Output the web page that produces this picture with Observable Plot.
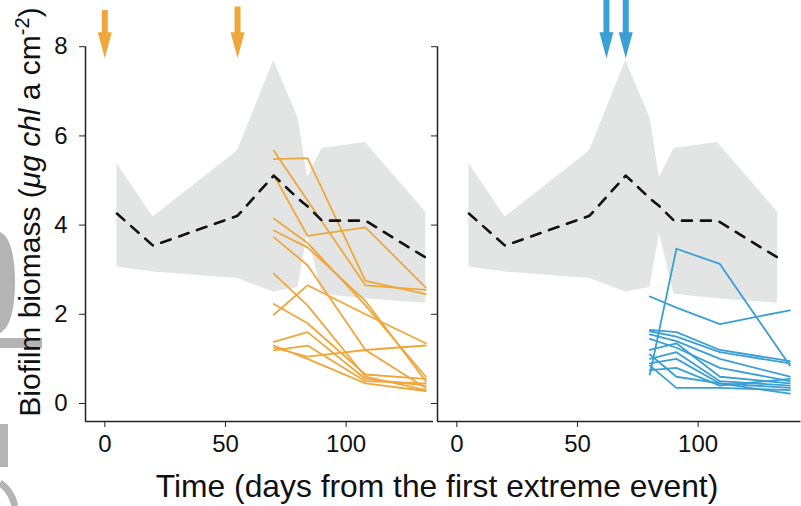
<!DOCTYPE html>
<html><head><meta charset="utf-8">
<script src="https://cdn.jsdelivr.net/npm/d3@7"></script>
<script src="https://cdn.jsdelivr.net/npm/@observablehq/plot@0.6"></script>
<style>body{margin:0;background:#fff}#chart{width:801px;height:506px}</style>
</head><body><div id="chart"></div>
<script>
// ---------- data ----------
const panels = ["orange", "blue"];
const xTicks = [0, 50, 100];
const yTicks = [0, 2, 4, 6, 8];

// reference envelope (same in both panels)
const refDays = [5, 20, 55, 70, 80, 84, 90, 108, 133];
const refLow  = [3.06, 2.95, 2.8, 2.5, 2.6, 3.8, 2.45, 2.35, 2.25];
const refHigh = [5.38, 4.18, 5.67, 7.69, 6.42, 5.07, 5.72, 5.85, 4.29];
const refMean = [4.26, 3.54, 4.21, 5.11, 4.6, 4.42, 4.1, 4.1, 3.27];

// orange panel: individual channels
const orangeDays = [70, 84, 108, 133];
const orangeSeries = [
  [5.67, 4.55, 2.65, 2.55],
  [5.48, 5.50, 2.75, 2.45],
  [5.12, 3.76, 3.95, 2.60],
  [4.15, 3.60, 2.20, 0.60],
  [3.88, 3.50, 2.30, 0.50],
  [3.73, 3.10, 1.20, 0.35],
  [2.91, 2.20, 0.60, 0.30],
  [1.99, 2.65, 2.00, 1.35],
  [2.23, 1.80, 0.65, 0.55],
  [1.38, 1.60, 0.55, 0.40],
  [1.25, 1.05, 1.20, 1.30],
  [1.19, 1.30, 0.50, 0.45],
  [1.30, 1.00, 0.45, 0.28]
];

// blue panel: individual channels
const blueDays = [80, 91, 109, 138];
const blueSeries = [
  [0.65, 3.47, 3.13, 0.85],
  [2.40, 2.15, 1.78, 2.09],
  [1.65, 1.60, 1.20, 0.95],
  [1.62, 1.50, 1.15, 0.90],
  [1.55, 1.40, 1.00, 0.60],
  [1.45, 1.25, 0.80, 0.50],
  [1.20, 1.35, 0.60, 0.45],
  [1.00, 1.15, 0.50, 0.40],
  [0.90, 1.00, 0.45, 0.35],
  [0.75, 0.80, 0.40, 0.55],
  [0.85, 0.35, 0.35, 0.30],
  [1.10, 0.60, 0.45, 0.22]
];

// extreme events (arrows)
const arrowPanel = ["orange", "orange", "blue", "blue"];
const arrowDays  = [0, 55, 62, 70];
const arrowTop   = [8.81, 8.89, 9.1, 9.1];

const colors = {orange: "#efa73b", blue: "#3a9fd2"};

// ---------- tables ----------
const refRows = panels.flatMap(p => refDays.map((d, i) => ({panel: p, day: d, lo: refLow[i], hi: refHigh[i], mean: refMean[i]})));
const orangeRows = orangeSeries.flatMap((s, k) => s.map((v, i) => ({panel: "orange", id: k, day: orangeDays[i], value: v})));
const blueRows = blueSeries.flatMap((s, k) => s.map((v, i) => ({panel: "blue", id: k, day: blueDays[i], value: v})));
const arrowRows = arrowDays.map((d, i) => ({panel: arrowPanel[i], day: d, top: arrowTop[i], neck: 8.2, head: 8.03, color: colors[arrowPanel[i]]}));

const xDomain = [-8, 136.2];
const yDomain = [-0.4036, 8.924];
const axisRows = [{panel: "orange", x2: xDomain[1]}, {panel: "blue", x2: 142.6}];

const arrowHead = {draw(ctx) { ctx.moveTo(-7, -13); ctx.lineTo(7, -13); ctx.lineTo(0, 13); ctx.closePath(); }};

const chart = Plot.plot({
  width: 801, height: 506,
  marginLeft: 84, marginRight: 15, marginTop: 5, marginBottom: 85,
  style: {fontFamily: "'Liberation Sans', Arial, sans-serif", background: "white"},
  fx: {domain: panels, paddingInner: 0.01133, paddingOuter: 0, axis: null},
  x: {domain: xDomain, axis: null},
  y: {domain: yDomain, axis: null},
  marks: [
    Plot.areaY(refRows, {fx: "panel", x: "day", y1: "lo", y2: "hi", fill: "#e3e5e5", curve: "linear"}),
    Plot.line(orangeRows, {fx: "panel", x: "day", y: "value", z: "id", stroke: colors.orange, strokeWidth: 1.8}),
    Plot.line(blueRows, {fx: "panel", x: "day", y: "value", z: "id", stroke: colors.blue, strokeWidth: 1.8}),
    Plot.line(refRows, {fx: "panel", x: "day", y: "mean", stroke: "#111", strokeWidth: 2.6, strokeDasharray: "10,9"}),
    Plot.ruleX(arrowRows, {fx: "panel", x: "day", y1: "top", y2: "neck", stroke: "color", strokeWidth: 6}),
    Plot.dot(arrowRows, {fx: "panel", x: "day", y: "head", symbol: arrowHead, fill: "color", stroke: null}),
    // axis lines
    Plot.ruleX([xDomain[0]], {y1: yDomain[0], y2: 8, stroke: "#222", strokeWidth: 1.5}),
    Plot.ruleY(axisRows, {fx: "panel", y: yDomain[0], x1: xDomain[0], x2: "x2", stroke: "#222", strokeWidth: 1.5}),
    Plot.axisY(yTicks, {facetAnchor: "left", anchor: "left", tickSize: 6, tickPadding: 12, fontSize: 24, stroke: "#222", fill: "#111"}),
    Plot.axisY(yTicks, {facetAnchor: "right", anchor: "left", tickSize: 6, tickFormat: () => "", stroke: "#222"}),
    Plot.axisX(xTicks, {tickSize: 6, tickPadding: 7, fontSize: 24, stroke: "#222", fill: "#111"})
  ]
});
document.getElementById("chart").appendChild(chart);

const svg = d3.select(chart);

// faint grey fragments of a neighbouring figure, cut by the left edge
const frag = svg.insert("g", ":first-child").attr("fill", "#b4b4b4");
frag.append("path").attr("d", "M0,232 C10,236 15,255 15,282 C15,309 10,328 0,333 Z");
frag.append("rect").attr("x", 0).attr("y", 338).attr("width", 42).attr("height", 10);
frag.append("rect").attr("x", 0).attr("y", 424).attr("width", 8).attr("height", 43);
frag.append("path").attr("d", "M0,483 Q11,490 15,506").attr("fill", "none").attr("stroke", "#b4b4b4").attr("stroke-width", 7);

// axis titles
const yl = svg.append("text")
  .attr("transform", "translate(40,212) rotate(-90)")
  .attr("text-anchor", "middle")
  .attr("font-size", 30)
  .attr("fill", "#111")
  .attr("font-family", "'Liberation Sans', Arial, sans-serif");
yl.append("tspan").text("Biofilm biomass (");
yl.append("tspan").attr("font-style", "italic").text("μg chl");
yl.append("tspan").text(" a cm");
yl.append("tspan").attr("font-size", 20).attr("dy", -11).text("-2");
yl.append("tspan").attr("dy", 11).text(")");

svg.append("text")
  .attr("x", 437).attr("y", 497)
  .attr("text-anchor", "middle")
  .attr("font-size", 31.8)
  .attr("fill", "#111")
  .attr("font-family", "'Liberation Sans', Arial, sans-serif")
  .text("Time (days from the first extreme event)");
</script>
</body></html>
